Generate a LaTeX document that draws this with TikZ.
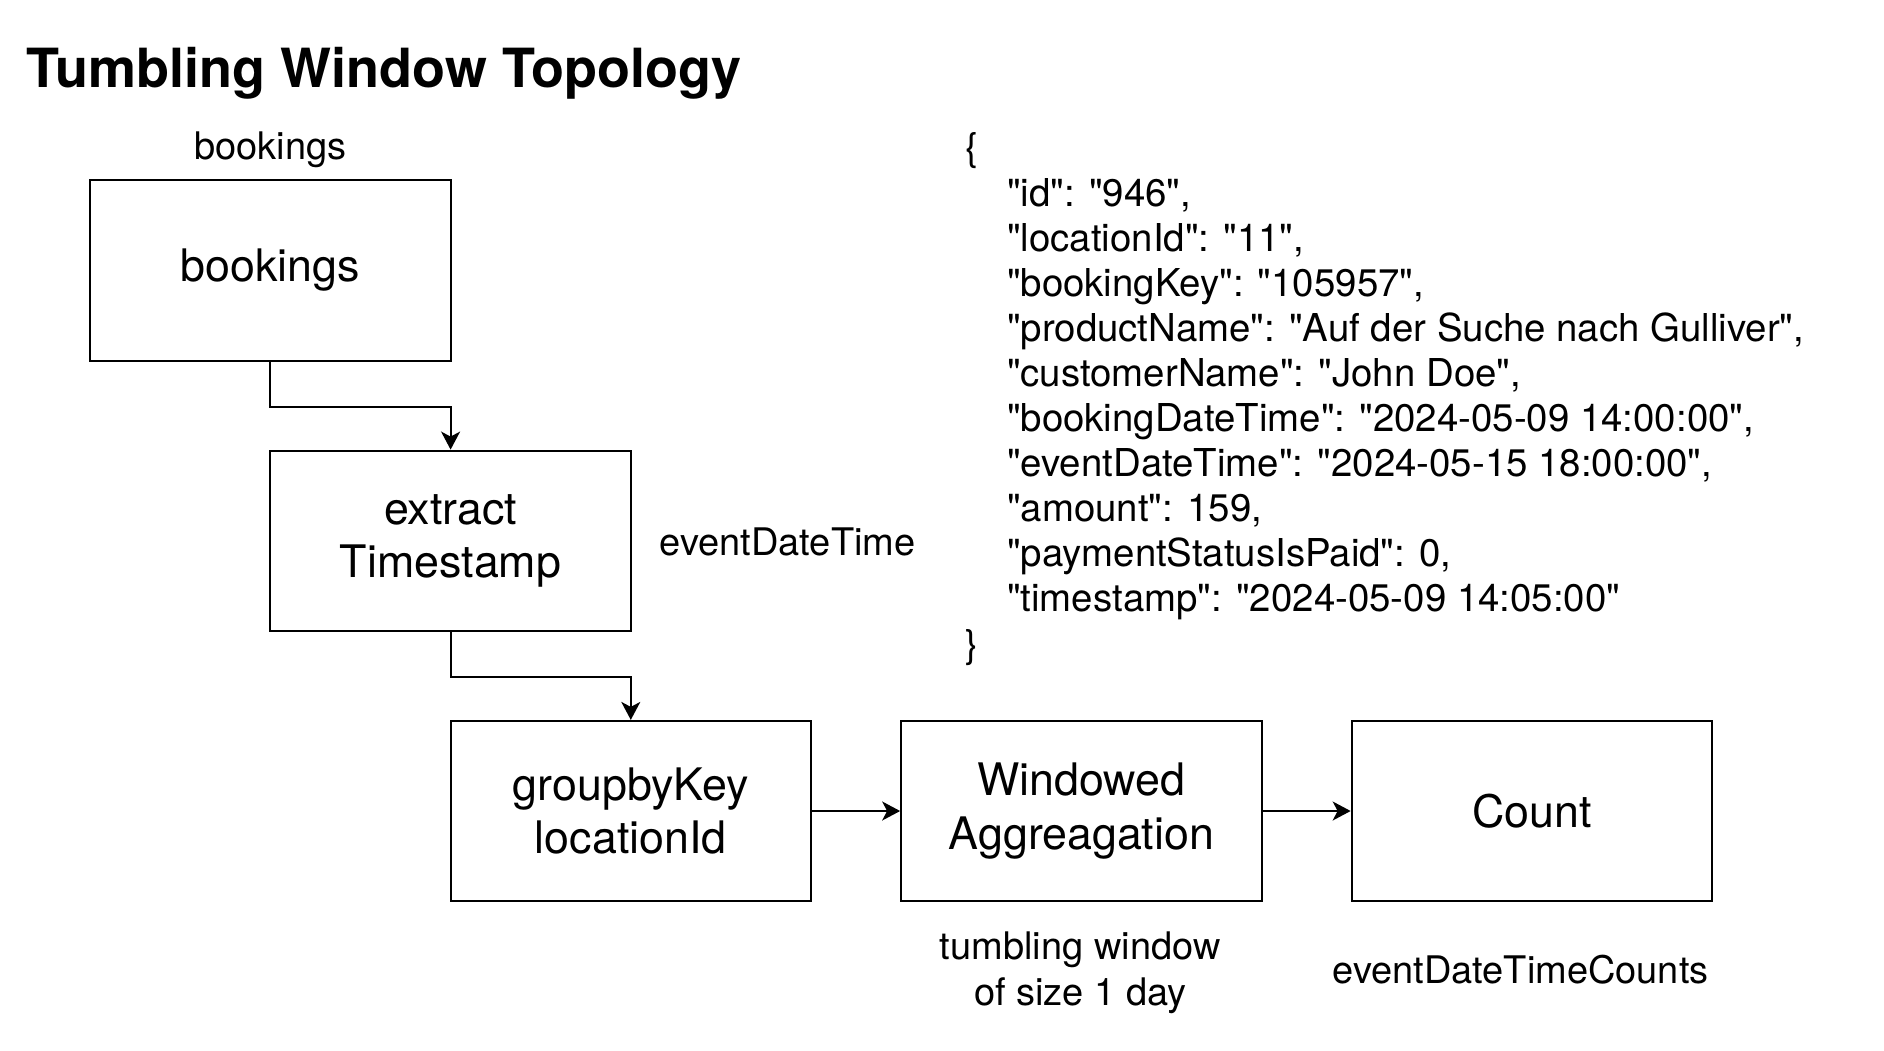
\documentclass[tikz,border=0pt]{standalone}
\usepackage{fontspec}
\setmainfont{TeX Gyre Heros}[Ligatures=TeXOff]
\usetikzlibrary{arrows.meta}
\begin{document}
\begin{tikzpicture}[x=1pt,y=-1pt,
  box/.style={draw,line width=2pt,minimum width=360.5pt,minimum height=180.2pt,inner sep=0pt,align=center,font=\fontsize{44.8}{53.5}\selectfont},
  lbl/.style={inner sep=0pt,align=center,font=\fontsize{38}{45.5}\selectfont},
  jl/.style={inner sep=0pt,anchor=base west,font=\fontsize{38.4}{45.5}\selectfont},
  arr/.style={line width=2pt,-{Stealth[length=18pt,width=19pt,inset=5pt]}}]
\useasboundingbox (0,0) rectangle (1884,1050);

\node[anchor=base west,inner sep=0pt,font=\fontsize{54}{60}\selectfont\bfseries] (title) at (26.4,87.7) {Tumbling Window Topology};

\node[box] (bk) at (270.4,270.4) {bookings};
\node[box] (ex) at (450.6,540.7) {extract\\Timestamp};
\node[box] (gb) at (630.8,811) {groupbyKey\\locationId};
\node[box] (wa) at (1081.4,811) {Windowed\\Aggreagation};
\node[box] (ct) at (1531.9,811) {Count};

\node[lbl] (bklbl) at (270.4,150.2) {bookings};
\node[lbl] (edt) at (787.6,541.9) {eventDateTime};
\node[lbl] (tw) at (1080.2,972.6) {tumbling window\\of size 1 day};
\node[lbl] (edtc) at (1520.5,969.6) {eventDateTimeCounts};

\draw[arr] (bk.south) -- ++(0,45) -| (ex.north);
\draw[arr] (ex.south) -- ++(0,45) -| (gb.north);
\draw[arr] (gb.east) -- (wa.west);
\draw[arr] (wa.east) -- (ct.west);

\node[jl] (j0) at (964.8,160.9) {\{};
\node[jl] (j1) at (1006.9,206.0) {"id": "946",};
\node[jl] (j2) at (1006.9,251.1) {"locationId": "11",};
\node[jl] (j3) at (1006.9,296.2) {"bookingKey": "105957",};
\node[jl] (j4) at (1006.9,341.3) {"productName": "Auf der Suche nach Gulliver",};
\node[jl] (j5) at (1006.9,386.4) {"customerName": "John Doe",};
\node[jl] (j6) at (1006.9,431.5) {"bookingDateTime": "2024-05-09 14:00:00",};
\node[jl] (j7) at (1006.9,476.6) {"eventDateTime": "2024-05-15 18:00:00",};
\node[jl] (j8) at (1006.9,521.7) {"amount": 159,};
\node[jl] (j9) at (1006.9,566.8) {"paymentStatusIsPaid": 0,};
\node[jl] (j10) at (1006.9,611.9) {"timestamp": "2024-05-09 14:05:00"};
\node[jl] (j11) at (964.8,657.0) {\}};
\end{tikzpicture}
\end{document}
